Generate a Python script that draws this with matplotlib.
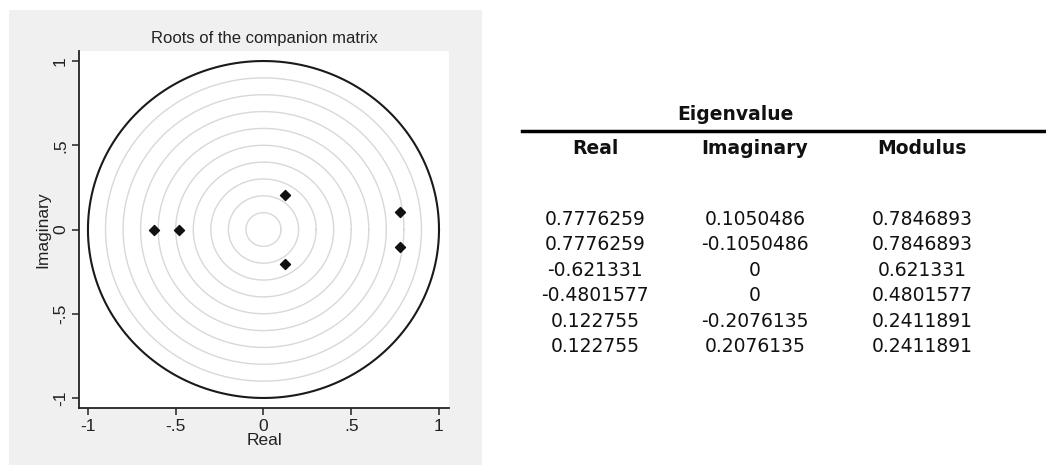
import numpy as np
import matplotlib
matplotlib.use("Agg")
import matplotlib.pyplot as plt
from matplotlib.patches import Rectangle

# ---- data ----
real_vals = [0.7776259, 0.7776259, -0.621331, -0.4801577, 0.122755, 0.122755]
imag_vals = [0.1050486, -0.1050486, 0.0, 0.0, -0.2076135, 0.2076135]
modulus_vals = [0.7846893, 0.7846893, 0.621331, 0.4801577, 0.2411891, 0.2411891]
real_txt = ["0.7776259", "0.7776259", "-0.621331", "-0.4801577", "0.122755", "0.122755"]
imag_txt = ["0.1050486", "-0.1050486", "0", "0", "-0.2076135", "0.2076135"]
mod_txt = ["0.7846893", "0.7846893", "0.621331", "0.4801577", "0.2411891", "0.2411891"]
col_headers = ["Real", "Imaginary", "Modulus"]
grid_radii = [0.1, 0.2, 0.3, 0.4, 0.5, 0.6, 0.7, 0.8, 0.9]
tick_vals = [-1, -0.5, 0, 0.5, 1]
tick_labels = ["-1", "-.5", "0", ".5", "1"]

W, H = 1046, 466
fig = plt.figure(figsize=(W / 100, H / 100), dpi=100)
fig.patch.set_facecolor("white")

# gray Stata graph region
fig.patches.append(Rectangle((9 / W, 1 - 465 / H), (482 - 9) / W, (465 - 10) / H,
                             transform=fig.transFigure, facecolor="#f0f0f0",
                             edgecolor="none", zorder=-5))

ax = fig.add_axes([79 / W, 1 - 408 / H, (449 - 79) / W, (408 - 51) / H])
ax.set_zorder(2)
ax.set_facecolor("white")
ax.set_xlim(-1.051, 1.057)
ax.set_ylim(-1.0595, 1.0595)

theta = np.linspace(0, 2 * np.pi, 400)
for r in grid_radii:
    ax.plot(r * np.cos(theta), r * np.sin(theta), color="#d8d8d8", lw=1.0, zorder=1)
ax.plot(np.cos(theta), np.sin(theta), color="#1a1a1a", lw=1.5, zorder=2)

ax.scatter(real_vals, imag_vals, marker="D", s=26, color="#111111", zorder=3)

for s in ["top", "right"]:
    ax.spines[s].set_visible(False)
for s in ["left", "bottom"]:
    ax.spines[s].set_color("#222222")
    ax.spines[s].set_linewidth(1.3)

font = "Liberation Sans"
ax.set_xticks(tick_vals)
ax.set_xticklabels(tick_labels, fontsize=12.5, family=font, color="#222222")
ax.set_yticks(tick_vals)
ax.set_yticklabels(tick_labels, fontsize=12.5, family=font, color="#222222",
                   rotation=90, va="center")
ax.tick_params(direction="out", length=5, width=1.1, color="#222222", pad=3)
ax.set_xlabel("Real", fontsize=12.5, family=font, color="#222222", labelpad=-1)
ax.set_ylabel("Imaginary", fontsize=12.5, family=font, color="#222222", labelpad=2)
ax.set_title("Roots of the companion matrix", fontsize=12, family=font,
             color="#222222", pad=6)

# ---- table ----
tfont = "DejaVu Sans"
tsize = 13.5
fig.text(735 / W, 1 - 115 / H, "Eigenvalue", ha="center", va="center",
         fontsize=tsize, fontweight="bold", family=tfont, color="#111111")
fig.add_artist(plt.Line2D([522 / W, 1.0], [1 - 131 / H, 1 - 131 / H],
                          transform=fig.transFigure, color="black", lw=2.5))
col_x = [595, 755, 922]
for cx, h in zip(col_x, col_headers):
    fig.text(cx / W, 1 - 148 / H, h, ha="center", va="center", fontsize=tsize,
             fontweight="bold", family=tfont, color="#111111")
row_y0, row_dy = 219, 25.6
for i in range(len(real_txt)):
    y = 1 - (row_y0 + i * row_dy) / H
    for cx, txt in zip(col_x, [real_txt[i], imag_txt[i], mod_txt[i]]):
        fig.text(cx / W, y, txt, ha="center", va="center", fontsize=tsize,
                 family=tfont, color="#111111")

fig.savefig("out.png", dpi=100)
